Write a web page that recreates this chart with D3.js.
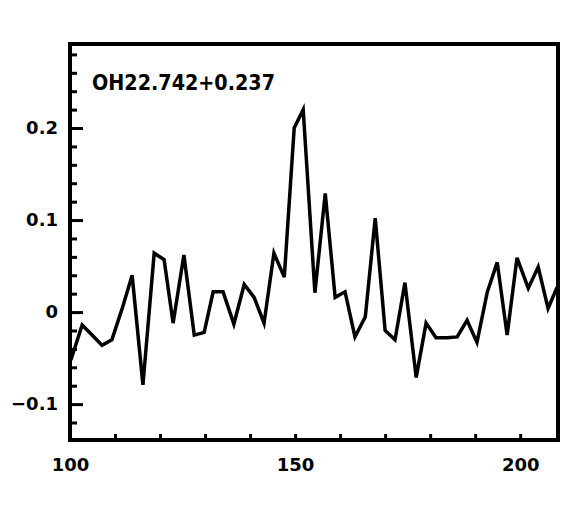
<!DOCTYPE html>
<html>
<head>
<meta charset="utf-8">
<script src="https://cdn.jsdelivr.net/npm/d3@7"></script>
<style>
  body { margin: 0; background: #fff; }
  svg { display: block; }
  .tick text { font-family: "DejaVu Sans", sans-serif; font-weight: bold; font-size: 18px; fill: #000; }
</style>
</head>
<body>
<div id="chart"></div>
<script>
// velocity channels (km/s) and line intensity
const velocity = [
  100.2, 102.7, 104.9, 107.1, 109.3, 111.6, 113.8, 116.2, 118.7, 120.9,
  122.9, 125.3, 127.6, 129.8, 131.8, 134.0, 136.4, 138.7, 140.9, 143.1,
  145.3, 147.6, 149.8, 151.8, 154.4, 156.7, 158.9, 161.1, 163.3, 165.6,
  167.8, 170.0, 172.2, 174.4, 176.9, 179.1, 181.3, 183.8, 186.0, 188.2,
  190.4, 192.7, 194.9, 197.1, 199.3, 201.8, 204.0, 206.2, 208.2
];
const intensity = [
  -0.052, -0.014, -0.025, -0.036, -0.030, 0.004, 0.040, -0.079, 0.064, 0.057,
  -0.012, 0.062, -0.025, -0.022, 0.022, 0.022, -0.013, 0.030, 0.016, -0.012,
  0.064, 0.038, 0.200, 0.220, 0.021, 0.129, 0.016, 0.022, -0.027, -0.005,
  0.102, -0.020, -0.030, 0.032, -0.071, -0.012, -0.028, -0.028, -0.027, -0.009,
  -0.033, 0.022, 0.054, -0.025, 0.059, 0.026, 0.049, 0.004, 0.027
];
const xTicks = [100, 110, 120, 130, 140, 150, 160, 170, 180, 190, 200];
const xLabels = [100, 150, 200];
const yMajor = [-0.1, 0, 0.1, 0.2];
const yMinor = [-0.12, -0.08, -0.06, -0.04, -0.02, 0.02, 0.04, 0.06, 0.08, 0.12, 0.14, 0.16, 0.18, 0.22, 0.24, 0.26, 0.28];
const title = 'OH22.742+0.237';

const width = 577, height = 506;
const margin = { left: 70, right: 19, top: 44, bottom: 66 };

const svg = d3.select('#chart').append('svg')
  .attr('width', width)
  .attr('height', height);

const x = d3.scaleLinear()
  .domain([100, 208.4])
  .range([margin.left, width - margin.right]);

const y = d3.scaleLinear()
  .domain([-0.139, 0.2913])
  .range([height - margin.bottom, margin.top]);

svg.append('clipPath').attr('id', 'plot')
  .append('rect')
  .attr('x', margin.left)
  .attr('y', margin.top)
  .attr('width', width - margin.left - margin.right)
  .attr('height', height - margin.top - margin.bottom);

// y minor ticks
const yMin = svg.append('g')
  .attr('transform', `translate(${margin.left},0)`)
  .call(d3.axisLeft(y).tickValues(yMinor).tickSize(-7).tickFormat(''));
yMin.select('.domain').remove();

// y major ticks with labels
const yMaj = svg.append('g')
  .attr('transform', `translate(${margin.left},0)`)
  .call(d3.axisLeft(y).tickValues(yMajor).tickSize(-13).tickPadding(12)
    .tickFormat((d) => (d === 0 ? '0' : d3.format('.1f')(d).replace('-', '\u2212'))));
yMaj.select('.domain').remove();

// x ticks
const xAx = svg.append('g')
  .attr('transform', `translate(0,${height - margin.bottom})`)
  .call(d3.axisBottom(x).tickValues(xTicks).tickSize(-6).tickPadding(18)
    .tickFormat((d) => (xLabels.includes(d) ? d : '')));
xAx.select('.domain').remove();

svg.selectAll('.tick line')
  .attr('stroke', '#000')
  .attr('stroke-width', 3);

// spectrum
const line = d3.line()
  .x((d, i) => x(velocity[i]))
  .y((d) => y(d));

svg.append('path')
  .datum(intensity)
  .attr('clip-path', 'url(#plot)')
  .attr('fill', 'none')
  .attr('stroke', '#000')
  .attr('stroke-width', 3.5)
  .attr('d', line);

// frame
svg.append('rect')
  .attr('x', margin.left)
  .attr('y', margin.top)
  .attr('width', width - margin.left - margin.right)
  .attr('height', height - margin.top - margin.bottom)
  .attr('fill', 'none')
  .attr('stroke', '#000')
  .attr('stroke-width', 4);

svg.append('text')
  .attr('x', 92)
  .attr('y', 90)
  .attr('font-family', '"DejaVu Sans", sans-serif')
  .attr('font-weight', 'bold')
  .attr('font-size', 21)
  .attr('textLength', 183)
  .attr('lengthAdjust', 'spacingAndGlyphs')
  .text(title);
</script>
</body>
</html>
